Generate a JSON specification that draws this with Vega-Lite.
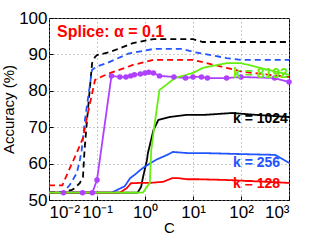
{
  "$schema": "https://vega.github.io/schema/vega-lite/v6.json",
  "width": 240,
  "height": 182,
  "autosize": "none",
  "padding": {"left": 49, "top": 18, "right": 30, "bottom": 40},
  "config": {
    "font": "Liberation Sans",
    "view": {"stroke": "black", "strokeWidth": 1},
    "axis": {
      "domain": false,
      "tickColor": "black",
      "labelColor": "black",
      "labelFontSize": 17,
      "titleFontSize": 15,
      "titleFontWeight": "normal",
      "titleColor": "black",
      "gridColor": "#999",
      "gridDash": [1, 3],
      "tickSize": -4
    }
  },
  "datasets": {
    "curves": [
      {"s": "bd", "st": "dash", "C": 0.01, "acc": 52},
      {"s": "bd", "st": "dash", "C": 0.02, "acc": 52.2},
      {"s": "bd", "st": "dash", "C": 0.03, "acc": 52.8},
      {"s": "bd", "st": "dash", "C": 0.035, "acc": 53.3},
      {"s": "bd", "st": "dash", "C": 0.044, "acc": 54.7},
      {"s": "bd", "st": "dash", "C": 0.051, "acc": 56.3},
      {"s": "bd", "st": "dash", "C": 0.055, "acc": 63.7},
      {"s": "bd", "st": "dash", "C": 0.062, "acc": 72},
      {"s": "bd", "st": "dash", "C": 0.079, "acc": 87.6},
      {"s": "bd", "st": "dash", "C": 0.091, "acc": 89.3},
      {"s": "bd", "st": "dash", "C": 0.1, "acc": 89.8},
      {"s": "bd", "st": "dash", "C": 0.19, "acc": 90.7},
      {"s": "bd", "st": "dash", "C": 0.56, "acc": 93.1},
      {"s": "bd", "st": "dash", "C": 1.5, "acc": 94.2},
      {"s": "bd", "st": "dash", "C": 10, "acc": 94.2},
      {"s": "bd", "st": "dash", "C": 16, "acc": 93.4},
      {"s": "bd", "st": "dash", "C": 1000, "acc": 93.4},
      {"s": "bld", "st": "dash", "C": 0.01, "acc": 52},
      {"s": "bld", "st": "dash", "C": 0.02, "acc": 52.2},
      {"s": "bld", "st": "dash", "C": 0.027, "acc": 54.1},
      {"s": "bld", "st": "dash", "C": 0.038, "acc": 57.4},
      {"s": "bld", "st": "dash", "C": 0.044, "acc": 61},
      {"s": "bld", "st": "dash", "C": 0.048, "acc": 63.7},
      {"s": "bld", "st": "dash", "C": 0.056, "acc": 72},
      {"s": "bld", "st": "dash", "C": 0.079, "acc": 85.8},
      {"s": "bld", "st": "dash", "C": 0.1, "acc": 86.7},
      {"s": "bld", "st": "dash", "C": 0.16, "acc": 87.6},
      {"s": "bld", "st": "dash", "C": 0.45, "acc": 90.2},
      {"s": "bld", "st": "dash", "C": 1.5, "acc": 91.5},
      {"s": "bld", "st": "dash", "C": 6, "acc": 91.5},
      {"s": "bld", "st": "dash", "C": 10, "acc": 90.7},
      {"s": "bld", "st": "dash", "C": 50, "acc": 89.0},
      {"s": "bld", "st": "dash", "C": 100, "acc": 88.5},
      {"s": "bld", "st": "dash", "C": 1000, "acc": 88.5},
      {"s": "rd", "st": "dash", "C": 0.01, "acc": 54},
      {"s": "rd", "st": "dash", "C": 0.019, "acc": 54},
      {"s": "rd", "st": "dash", "C": 0.022, "acc": 56},
      {"s": "rd", "st": "dash", "C": 0.03, "acc": 60},
      {"s": "rd", "st": "dash", "C": 0.038, "acc": 63},
      {"s": "rd", "st": "dash", "C": 0.051, "acc": 67},
      {"s": "rd", "st": "dash", "C": 0.062, "acc": 72.8},
      {"s": "rd", "st": "dash", "C": 0.091, "acc": 83},
      {"s": "rd", "st": "dash", "C": 0.12, "acc": 83.8},
      {"s": "rd", "st": "dash", "C": 0.19, "acc": 84.9},
      {"s": "rd", "st": "dash", "C": 0.38, "acc": 86.3},
      {"s": "rd", "st": "dash", "C": 0.56, "acc": 87.1},
      {"s": "rd", "st": "dash", "C": 1.5, "acc": 88.5},
      {"s": "rd", "st": "dash", "C": 10, "acc": 88.5},
      {"s": "rd", "st": "dash", "C": 50, "acc": 86.3},
      {"s": "rd", "st": "dash", "C": 110, "acc": 85.2},
      {"s": "rd", "st": "dash", "C": 1000, "acc": 83.8},
      {"s": "purple", "st": "solid", "C": 0.02, "acc": 52},
      {"s": "purple", "st": "solid", "C": 0.05, "acc": 52},
      {"s": "purple", "st": "solid", "C": 0.08, "acc": 52},
      {"s": "purple", "st": "solid", "C": 0.1, "acc": 55.5},
      {"s": "purple", "st": "solid", "C": 0.2, "acc": 84.1},
      {"s": "purple", "st": "solid", "C": 0.3, "acc": 83.8},
      {"s": "purple", "st": "solid", "C": 0.4, "acc": 83.8},
      {"s": "purple", "st": "solid", "C": 0.5, "acc": 84.1},
      {"s": "purple", "st": "solid", "C": 0.6, "acc": 84.4},
      {"s": "purple", "st": "solid", "C": 0.8, "acc": 84.6},
      {"s": "purple", "st": "solid", "C": 1.0, "acc": 84.9},
      {"s": "purple", "st": "solid", "C": 1.2, "acc": 85.1},
      {"s": "purple", "st": "solid", "C": 1.5, "acc": 84.9},
      {"s": "purple", "st": "solid", "C": 2, "acc": 84.1},
      {"s": "purple", "st": "solid", "C": 4, "acc": 83.8},
      {"s": "purple", "st": "solid", "C": 7, "acc": 83.5},
      {"s": "purple", "st": "solid", "C": 10, "acc": 83.8},
      {"s": "purple", "st": "solid", "C": 15, "acc": 83.8},
      {"s": "purple", "st": "solid", "C": 20, "acc": 83.5},
      {"s": "purple", "st": "solid", "C": 50, "acc": 83.5},
      {"s": "purple", "st": "solid", "C": 100, "acc": 83.8},
      {"s": "purple", "st": "solid", "C": 500, "acc": 83.5},
      {"s": "purple", "st": "solid", "C": 1000, "acc": 82.4},
      {"s": "k1024", "st": "solid", "C": 0.01, "acc": 52},
      {"s": "k1024", "st": "solid", "C": 0.7, "acc": 52},
      {"s": "k1024", "st": "solid", "C": 0.83, "acc": 53.6},
      {"s": "k1024", "st": "solid", "C": 0.91, "acc": 56.3},
      {"s": "k1024", "st": "solid", "C": 1.1, "acc": 61},
      {"s": "k1024", "st": "solid", "C": 1.15, "acc": 62.9},
      {"s": "k1024", "st": "solid", "C": 1.5, "acc": 69.2},
      {"s": "k1024", "st": "solid", "C": 1.9, "acc": 72},
      {"s": "k1024", "st": "solid", "C": 3.3, "acc": 72.8},
      {"s": "k1024", "st": "solid", "C": 7.5, "acc": 73.4},
      {"s": "k1024", "st": "solid", "C": 18, "acc": 73.4},
      {"s": "k1024", "st": "solid", "C": 65, "acc": 73.9},
      {"s": "k1024", "st": "solid", "C": 200, "acc": 73.4},
      {"s": "k1024", "st": "solid", "C": 1000, "acc": 72.8},
      {"s": "k256", "st": "solid", "C": 0.01, "acc": 52},
      {"s": "k256", "st": "solid", "C": 0.2, "acc": 52},
      {"s": "k256", "st": "solid", "C": 0.38, "acc": 53.8},
      {"s": "k256", "st": "solid", "C": 0.49, "acc": 56},
      {"s": "k256", "st": "solid", "C": 0.62, "acc": 57},
      {"s": "k256", "st": "solid", "C": 0.79, "acc": 58.2},
      {"s": "k256", "st": "solid", "C": 1.0, "acc": 59.2},
      {"s": "k256", "st": "solid", "C": 1.26, "acc": 60},
      {"s": "k256", "st": "solid", "C": 1.8, "acc": 61.2},
      {"s": "k256", "st": "solid", "C": 2.9, "acc": 62.4},
      {"s": "k256", "st": "solid", "C": 3.8, "acc": 63.2},
      {"s": "k256", "st": "solid", "C": 7.5, "acc": 62.9},
      {"s": "k256", "st": "solid", "C": 16, "acc": 62.9},
      {"s": "k256", "st": "solid", "C": 110, "acc": 62.6},
      {"s": "k256", "st": "solid", "C": 510, "acc": 62.4},
      {"s": "k256", "st": "solid", "C": 1000, "acc": 60.2},
      {"s": "k128", "st": "solid", "C": 0.01, "acc": 52},
      {"s": "k128", "st": "solid", "C": 0.3, "acc": 52},
      {"s": "k128", "st": "solid", "C": 0.42, "acc": 53.3},
      {"s": "k128", "st": "solid", "C": 0.51, "acc": 54.6},
      {"s": "k128", "st": "solid", "C": 0.79, "acc": 54.7},
      {"s": "k128", "st": "solid", "C": 1.26, "acc": 54.7},
      {"s": "k128", "st": "solid", "C": 2.4, "acc": 55},
      {"s": "k128", "st": "solid", "C": 3.7, "acc": 56},
      {"s": "k128", "st": "solid", "C": 4.9, "acc": 56},
      {"s": "k128", "st": "solid", "C": 7.5, "acc": 55.7},
      {"s": "k128", "st": "solid", "C": 13, "acc": 55.7},
      {"s": "k128", "st": "solid", "C": 50, "acc": 55.5},
      {"s": "k128", "st": "solid", "C": 1000, "acc": 54.7},
      {"s": "k8192", "st": "solid", "C": 0.01, "acc": 52},
      {"s": "k8192", "st": "solid", "C": 0.9, "acc": 52},
      {"s": "k8192", "st": "solid", "C": 1.26, "acc": 54.7},
      {"s": "k8192", "st": "solid", "C": 1.35, "acc": 63.7},
      {"s": "k8192", "st": "solid", "C": 1.6, "acc": 71.2},
      {"s": "k8192", "st": "solid", "C": 2.0, "acc": 80.2},
      {"s": "k8192", "st": "solid", "C": 4.2, "acc": 83.5},
      {"s": "k8192", "st": "solid", "C": 10, "acc": 84.9},
      {"s": "k8192", "st": "solid", "C": 16, "acc": 86.3},
      {"s": "k8192", "st": "solid", "C": 50, "acc": 87.6},
      {"s": "k8192", "st": "solid", "C": 100, "acc": 87.6},
      {"s": "k8192", "st": "solid", "C": 250, "acc": 86.3},
      {"s": "k8192", "st": "solid", "C": 1000, "acc": 84.4}
    ],
    "labels": [
      {"s": "rd", "C": 0.0147, "acc": 96.1, "t": "Splice: α = 0.1", "fs": 16},
      {"s": "k8192", "C": 68, "acc": 84.6, "t": "k = 8192", "fs": 14},
      {"s": "k1024", "C": 68, "acc": 72.3, "t": "k = 1024", "fs": 14},
      {"s": "k256", "C": 68, "acc": 60.2, "t": "k = 256", "fs": 14},
      {"s": "k128", "C": 68, "acc": 54.4, "t": "k = 128", "fs": 14}
    ]
  },
  "layer": [
    {
      "data": {"name": "curves"},
      "mark": {"type": "line", "strokeWidth": 1.8, "clip": true},
      "encoding": {
        "x": {
          "field": "C", "type": "quantitative",
          "scale": {"type": "log", "domain": [0.01, 1000], "nice": false},
          "axis": {
            "title": "C",
            "values": [0.01, 0.1, 1, 10, 100, 1000],
            "tickCount": 12,
            "labelExpr": "datum.value < 0.05 ? '10⁻²' : datum.value < 0.5 ? '10⁻¹' : datum.value < 5 ? '10⁰' : datum.value < 50 ? '10¹' : datum.value < 500 ? '10²' : '10³'",
            "labelOverlap": false,
            "labelPadding": 8,
            "titlePadding": 0
          }
        },
        "y": {
          "field": "acc", "type": "quantitative",
          "scale": {"domain": [50, 100], "nice": false, "zero": false},
          "axis": {
            "title": "Accuracy (%)",
            "values": [50, 60, 70, 80, 90, 100],
            "tickCount": 12,
            "labelOverlap": false,
            "labelFlush": false,
            "labelPadding": 6,
            "titlePadding": 2
          }
        },
        "color": {
          "field": "s", "type": "nominal", "legend": null,
          "scale": {
            "domain": ["bd", "bld", "rd", "purple", "k1024", "k256", "k128", "k8192"],
            "range": ["#000000", "#2255ff", "#ff0000", "#b040ff", "#000000", "#2255ff", "#ff0000", "#66ee11"]
          }
        },
        "strokeDash": {
          "field": "st", "type": "nominal", "legend": null,
          "scale": {"domain": ["dash", "solid"], "range": [[6, 4], [1, 0]]}
        }
      }
    },
    {
      "data": {"name": "curves"},
      "transform": [{"filter": "datum.s == 'purple'"}],
      "mark": {"type": "point", "filled": true, "size": 30, "opacity": 1},
      "encoding": {
        "x": {"field": "C", "type": "quantitative"},
        "y": {"field": "acc", "type": "quantitative"},
        "color": {"field": "s", "type": "nominal", "legend": null}
      }
    },
    {
      "data": {"name": "labels"},
      "mark": {"type": "text", "align": "left", "baseline": "middle", "fontWeight": "bold"},
      "encoding": {
        "x": {"field": "C", "type": "quantitative"},
        "y": {"field": "acc", "type": "quantitative"},
        "text": {"field": "t"},
        "size": {"field": "fs", "type": "quantitative", "scale": null, "legend": null},
        "color": {"field": "s", "type": "nominal", "legend": null}
      }
    }
  ]
}
